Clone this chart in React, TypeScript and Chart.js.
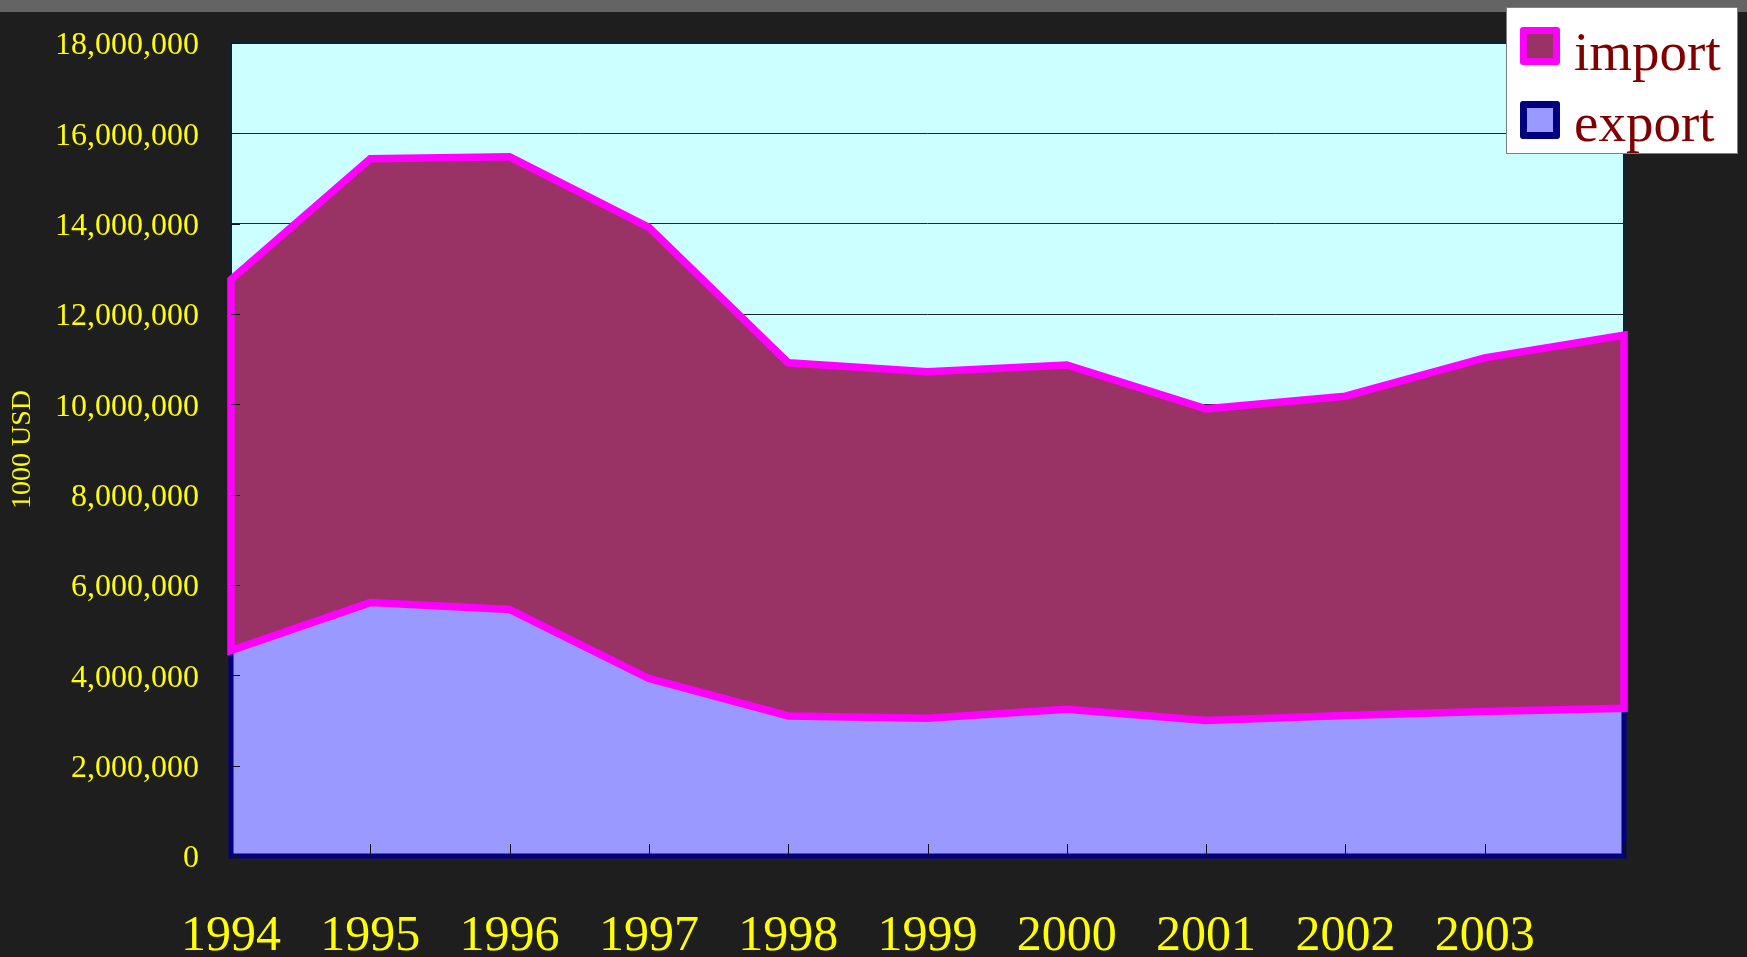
import React, { useEffect, useRef } from 'react';
import { Chart, registerables } from 'chart.js';

Chart.register(...registerables);

// ---- data ----
const years = ['1994', '1995', '1996', '1997', '1998', '1999', '2000', '2001', '2002', '2003', '2004'];
const xTickLabels = ['1994', '1995', '1996', '1997', '1998', '1999', '2000', '2001', '2002', '2003', ''];
const exportValues = [4550000, 5610000, 5460000, 3930000, 3100000, 3050000, 3250000, 3000000, 3110000, 3200000, 3270000];
const importValues = [8210000, 9830000, 10020000, 9990000, 7820000, 7670000, 7620000, 6900000, 7070000, 7830000, 8260000];
const yAxisTitle = '1000 USD';
const legendLabels = ['import', 'export'];

const FONT = "'Liberation Serif', 'Times New Roman', serif";
const YELLOW = '#ffff00';
const MAGENTA = '#ff00ff';
const NAVY = '#000080';
const IMPORT_FILL = '#993366';
const EXPORT_FILL = '#9999ff';

const decorPlugin = {
  id: 'decor',
  beforeDraw(chart: any) {
    const { ctx, chartArea: a } = chart;
    ctx.save();
    ctx.fillStyle = '#ccffff';
    ctx.fillRect(a.left, a.top, a.right - a.left, a.bottom - a.top);
    ctx.restore();
  },
  beforeDatasetsDraw(chart: any) {
    const { ctx, chartArea: a } = chart;
    ctx.save();
    ctx.strokeStyle = '#0b2236';
    ctx.lineWidth = 2;
    ctx.strokeRect(a.left, a.top, a.right - a.left, a.bottom - a.top);
    ctx.restore();
  },
  afterDatasetsDraw(chart: any) {
    const { ctx, chartArea: a } = chart;
    const exp = chart.getDatasetMeta(0).data;
    const imp = chart.getDatasetMeta(1).data;
    const yS = chart.scales.y;
    const xS = chart.scales.x;
    const y0 = yS.getPixelForValue(0);
    const n = exp.length;
    ctx.save();
    ctx.lineJoin = 'miter';
    // export outline
    ctx.beginPath();
    ctx.moveTo(exp[0].x, y0);
    exp.forEach((p: any) => ctx.lineTo(p.x, p.y));
    ctx.lineTo(exp[n - 1].x, y0);
    ctx.closePath();
    ctx.strokeStyle = NAVY;
    ctx.lineWidth = 5;
    ctx.stroke();
    // import outline
    ctx.beginPath();
    imp.forEach((p: any, i: number) => (i ? ctx.lineTo(p.x, p.y) : ctx.moveTo(p.x, p.y)));
    for (let i = n - 1; i >= 0; i--) ctx.lineTo(exp[i].x, exp[i].y);
    ctx.closePath();
    ctx.strokeStyle = MAGENTA;
    ctx.lineWidth = 7.5;
    ctx.stroke();
    // inward tick marks
    ctx.strokeStyle = '#111';
    ctx.lineWidth = 1;
    yS.ticks.forEach((t: any) => {
      const py = Math.round(yS.getPixelForValue(t.value)) + 0.5;
      ctx.beginPath();
      ctx.moveTo(a.left, py);
      ctx.lineTo(a.left + 9, py);
      ctx.stroke();
    });
    for (let i = 1; i < n; i++) {
      const px = Math.round(xS.getPixelForValue(i)) + 0.5;
      ctx.beginPath();
      ctx.moveTo(px, a.bottom);
      ctx.lineTo(px, a.bottom - 12);
      ctx.stroke();
    }
    ctx.restore();
  },
  afterDraw(chart: any) {
    const { ctx } = chart;
    ctx.save();
    // legend box
    ctx.fillStyle = '#ffffff';
    ctx.fillRect(1506, 7, 231, 146);
    ctx.strokeStyle = '#808080';
    ctx.lineWidth = 1;
    ctx.strokeRect(1506.5, 7.5, 231, 146);
    const items = [
      { label: legendLabels[0], border: MAGENTA, fill: IMPORT_FILL, top: 27, base: 70 },
      { label: legendLabels[1], border: NAVY, fill: EXPORT_FILL, top: 101, base: 141 },
    ];
    items.forEach((it) => {
      ctx.fillStyle = it.border;
      ctx.beginPath();
      (ctx as any).roundRect(1520, it.top, 40, 38, 3);
      ctx.fill();
      ctx.fillStyle = it.fill;
      ctx.fillRect(1527, it.top + 7, 26, 24);
      ctx.fillStyle = '#800000';
      ctx.font = `55px ${FONT}`;
      ctx.textAlign = 'left';
      ctx.textBaseline = 'alphabetic';
      ctx.fillText(it.label, 1574, it.base);
    });
    ctx.restore();
  },
};

export default function App() {
  const ref = useRef<HTMLCanvasElement | null>(null);

  useEffect(() => {
    if (!ref.current) return;
    Chart.defaults.font.family = FONT;
    const chart = new Chart(ref.current, {
      type: 'line',
      data: {
        labels: years,
        datasets: [
          {
            label: legendLabels[1],
            data: exportValues,
            backgroundColor: EXPORT_FILL,
            borderColor: NAVY,
            borderWidth: 0,
            pointRadius: 0,
            fill: 'origin',
            tension: 0,
          },
          {
            label: legendLabels[0],
            data: importValues,
            backgroundColor: IMPORT_FILL,
            borderColor: MAGENTA,
            borderWidth: 0,
            pointRadius: 0,
            fill: '-1',
            tension: 0,
          },
        ],
      },
      options: {
        animation: false,
        responsive: false,
        layout: { padding: { left: 0, right: 123, top: 43, bottom: 0 } },
        plugins: { legend: { display: false }, tooltip: { enabled: false } },
        scales: {
          x: {
            type: 'category',
            stacked: true,
            offset: false,
            grid: { display: false, drawTicks: false },
            border: { display: false },
            ticks: {
              color: YELLOW,
              font: { size: 50, family: FONT },
              padding: 51,
              maxRotation: 0,
              autoSkip: false,
              callback: (_v: any, i: number) => xTickLabels[i],
            },
            afterFit: (s: any) => {
              s.height = 101;
              s.paddingLeft = 0;
              s.paddingRight = 0;
            },
          },
          y: {
            stacked: true,
            min: 0,
            max: 18000000,
            grid: { color: '#1a2a2a', drawTicks: false, lineWidth: 1 },
            border: { display: false },
            ticks: {
              stepSize: 2000000,
              color: YELLOW,
              font: { size: 32, family: FONT },
              padding: 32,
              labelOffset: 3,
              callback: (v: any) => Number(v).toLocaleString('en-US'),
            },
            title: {
              display: true,
              text: yAxisTitle,
              color: YELLOW,
              font: { size: 28, family: FONT },
              padding: { top: 6, bottom: 0 },
            },
            afterFit: (s: any) => {
              s.width = 231;
              s.paddingTop = 0;
              s.paddingBottom = 0;
            },
          },
        },
      },
      plugins: [decorPlugin],
    });
    return () => chart.destroy();
  }, []);

  return (
    <div style={{ position: 'fixed', left: 0, top: 0, width: 1747, height: 957, background: '#1e1e1e', overflow: 'hidden' }}>
      <div style={{ position: 'absolute', left: 0, top: 0, width: 1747, height: 12, background: '#646464' }} />
      <canvas ref={ref} width={1747} height={957} style={{ position: 'absolute', left: 0, top: 0, display: 'block' }} />
    </div>
  );
}
